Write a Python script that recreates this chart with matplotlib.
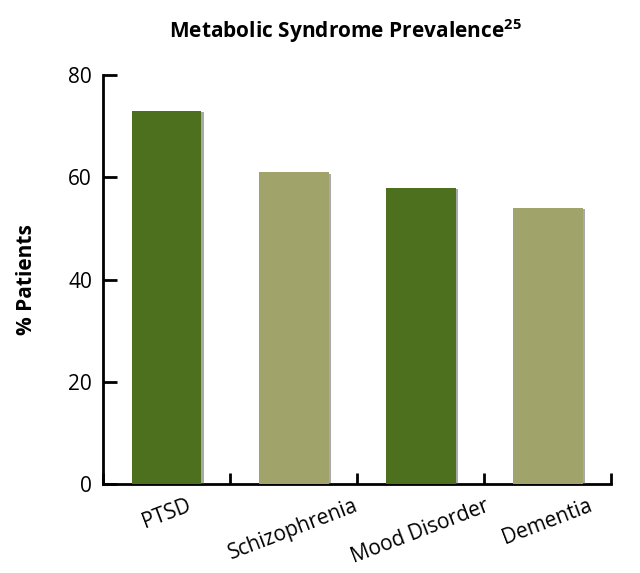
import matplotlib
matplotlib.use("Agg")
import matplotlib.pyplot as plt
import matplotlib.patheffects as pe
import numpy as np

categories = ["PTSD", "Schizophrenia", "Mood Disorder", "Dementia"]
values = [73, 61, 58, 54]
bar_colors = ["#4d701f", "#a0a46b", "#4d701f", "#a0a46b"]
y_ticks = [0, 20, 40, 60, 80]

plt.rcParams['font.family'] = ['Open Sans', 'DejaVu Sans']
plt.rcParams['mathtext.fontset'] = 'custom'
plt.rcParams['mathtext.rm'] = 'Open Sans'
plt.rcParams['mathtext.bf'] = 'Open Sans:bold'

fig = plt.figure(figsize=(6.4, 5.73), dpi=100)
ax = fig.add_axes([0.161, 0.155, 0.794, 0.714])

x = np.arange(len(categories))
bars = ax.bar(x, values, width=0.55, color=bar_colors, zorder=3)
for b in bars:
    b.set_path_effects([pe.SimplePatchShadow(offset=(2, -1), shadow_rgbFace="#555555", alpha=0.5),
                        pe.Normal()])

ax.set_xlim(-0.5, len(categories) - 0.5)
ax.set_ylim(0, 80)
ax.spines['top'].set_visible(False)
ax.spines['right'].set_visible(False)
for s in ('left', 'bottom'):
    ax.spines[s].set_linewidth(2)

ax.set_yticks(y_ticks)
ax.set_yticklabels([str(v) for v in y_ticks], fontsize=15)
ax.tick_params(axis='y', direction='in', length=10, width=2, pad=8)

ax.set_xticks(np.arange(len(categories) + 1) - 0.5)
ax.set_xticklabels([])
ax.tick_params(axis='x', which='major', direction='in', length=8, width=2)
ax.set_xticks(x, minor=True)
ax.set_xticklabels(categories, minor=True, fontsize=15, rotation=21, ha='center')
ax.tick_params(axis='x', which='minor', length=0, pad=8)

ax.set_ylabel("% Patients", fontsize=15, fontweight='bold', labelpad=22)
fig.text(0.54, 0.945, r"Metabolic Syndrome Prevalence$^{\mathbf{25}}$", fontsize=15,
         fontweight='bold', ha='center', va='center')

fig.savefig("out.png", dpi=100)
